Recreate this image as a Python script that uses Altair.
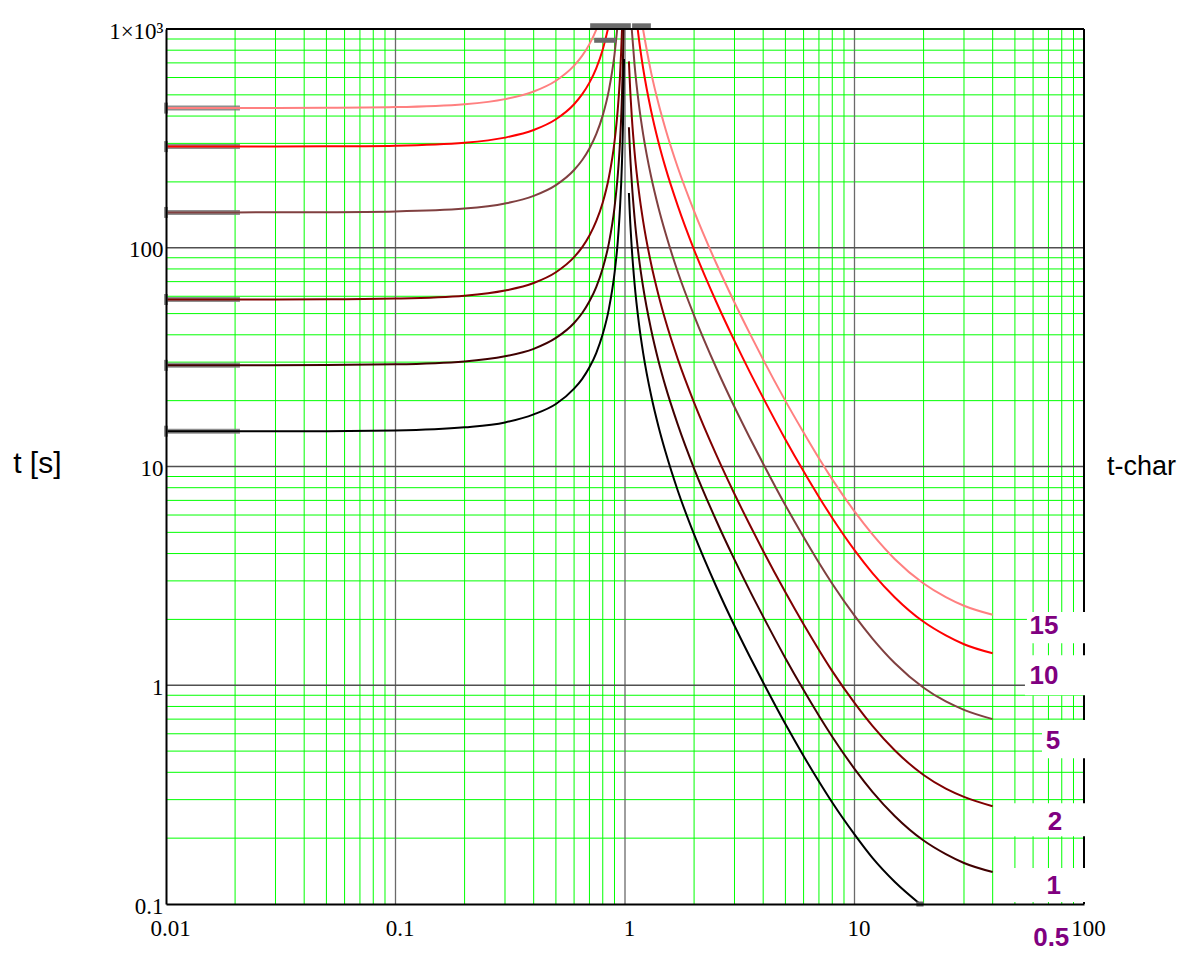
import altair as alt
import pandas as pd

# ---------------- axis ticks / grid values ----------------
x_ticks = [0.01, 0.1, 1, 10, 100]
y_ticks = [0.1, 1, 10, 100, 1000]
x_minor = [0.02, 0.03, 0.04, 0.05, 0.06, 0.07, 0.08, 0.09,
           0.2, 0.3, 0.4, 0.5, 0.6, 0.7, 0.8, 0.9,
           2, 3, 4, 5, 6, 7, 8, 9,
           20, 30, 40, 50, 60, 70, 80, 90]
y_minor = [0.2, 0.3, 0.4, 0.5, 0.6, 0.7, 0.8, 0.9,
           2, 3, 4, 5, 6, 7, 8, 9,
           20, 30, 40, 50, 60, 70, 80, 90,
           200, 300, 400, 500, 600, 700, 800, 900]
x_major = [0.1, 1, 10]
y_major = [1, 10, 100]

# ---------------- curves (t-char) ----------------
series_names = ["15", "10", "5", "2", "1", "0.5"]
series_colors = ["#ff8080", "#ff0000", "#804040", "#800000", "#400000", "#000000"]

# left branches (I < 1)
xl_05 = [0.01, 0.02, 0.05, 0.1, 0.2, 0.3, 0.4, 0.5, 0.6, 0.65, 0.7, 0.75, 0.8, 0.85, 0.9, 0.93, 0.95, 0.97, 0.98, 0.99]
tl_05 = [14.5, 14.5, 14.5, 14.6, 15.1, 15.9, 17.3, 19.3, 22.7, 25.1, 28.4, 33.1, 40.3, 52.3, 76.3, 107, 149, 245, 366, 729]
xl_1 = [0.01, 0.02, 0.05, 0.1, 0.2, 0.3, 0.4, 0.5, 0.6, 0.65, 0.7, 0.75, 0.8, 0.85, 0.9, 0.93, 0.95, 0.97, 0.98, 0.9854]
tl_1 = [29, 29, 29.1, 29.3, 30.2, 31.9, 34.5, 38.7, 45.3, 50.2, 56.9, 66.3, 80.6, 104.5, 152.6, 215, 297, 491, 732, 1000]
xl_2 = [0.01, 0.02, 0.05, 0.1, 0.2, 0.3, 0.4, 0.5, 0.6, 0.65, 0.7, 0.75, 0.8, 0.85, 0.9, 0.93, 0.95, 0.97, 0.9706]
tl_2 = [58, 58, 58.1, 58.6, 60.4, 63.7, 69.0, 77.3, 90.6, 100.4, 113.7, 132.6, 161.1, 209, 305, 429, 595, 981, 1000]
xl_5 = [0.01, 0.02, 0.05, 0.1, 0.2, 0.3, 0.4, 0.5, 0.6, 0.65, 0.7, 0.75, 0.8, 0.85, 0.9, 0.9247]
tl_5 = [145, 145.1, 145.4, 146.5, 151.0, 159.3, 172.6, 193.3, 226.6, 251.1, 284.3, 331.4, 402.8, 522.5, 763.2, 1000]
xl_10 = [0.01, 0.02, 0.05, 0.1, 0.2, 0.3, 0.4, 0.5, 0.6, 0.65, 0.7, 0.75, 0.8, 0.8426]
tl_10 = [290, 290.1, 290.7, 292.9, 302.1, 318.7, 345.2, 386.7, 453.1, 502.2, 568.6, 662.9, 805.6, 1000]
xl_15 = [0.01, 0.02, 0.05, 0.1, 0.2, 0.3, 0.4, 0.5, 0.6, 0.65, 0.7, 0.75, 0.7517]
tl_15 = [435, 435.2, 436.1, 439.4, 453.1, 478.0, 517.9, 580.0, 679.7, 753.2, 853.0, 994.3, 1000]

# right branches (I > 1)
xr_05 = [1.04, 1.05, 1.07, 1.1, 1.15, 1.2, 1.3, 1.4, 1.5, 1.7, 2, 2.5, 3, 3.5, 4, 5, 6, 7, 8, 10, 12, 15, 19.3]
tr_05 = [177.8, 141.5, 100.1, 69.1, 45.0, 33.0, 21.1, 15.2, 11.7, 7.73, 4.89, 2.82, 1.87, 1.35, 1.03, 0.665, 0.475, 0.363, 0.291, 0.208, 0.162, 0.126, 0.1]
xr_1 = [1.04, 1.05, 1.07, 1.1, 1.15, 1.2, 1.3, 1.4, 1.5, 1.7, 2, 2.5, 3, 3.5, 4, 5, 6, 7, 8, 10, 12, 15, 20, 25, 30, 40]
tr_1 = [355.5, 283.0, 200.3, 138.2, 90.0, 66.0, 42.2, 30.3, 23.3, 15.5, 9.79, 5.65, 3.75, 2.70, 2.06, 1.33, 0.951, 0.726, 0.582, 0.415, 0.325, 0.252, 0.195, 0.169, 0.154, 0.140]
xr_2 = [1.04, 1.05, 1.07, 1.1, 1.15, 1.2, 1.3, 1.4, 1.5, 1.7, 2, 2.5, 3, 3.5, 4, 5, 6, 7, 8, 10, 12, 15, 20, 25, 30, 40]
tr_2 = [711, 566, 401, 276, 180, 132, 84.3, 60.7, 46.6, 30.9, 19.6, 11.3, 7.49, 5.40, 4.11, 2.66, 1.90, 1.45, 1.16, 0.830, 0.650, 0.503, 0.389, 0.337, 0.309, 0.280]
xr_5 = [1.07, 1.1, 1.15, 1.2, 1.3, 1.4, 1.5, 1.7, 2, 2.5, 3, 3.5, 4, 5, 6, 7, 8, 10, 12, 15, 20, 25, 30, 40]
tr_5 = [1000, 691, 450, 330, 211, 152, 117, 77.3, 49.0, 28.2, 18.7, 13.5, 10.3, 6.65, 4.76, 3.63, 2.91, 2.08, 1.63, 1.26, 0.974, 0.843, 0.772, 0.700]
xr_10 = [1.136, 1.15, 1.2, 1.3, 1.4, 1.5, 1.7, 2, 2.5, 3, 3.5, 4, 5, 6, 7, 8, 10, 12, 15, 20, 25, 30, 40]
tr_10 = [1000, 900, 660, 422, 303, 233, 155, 97.9, 56.5, 37.5, 27.0, 20.6, 13.3, 9.51, 7.26, 5.82, 4.15, 3.25, 2.52, 1.95, 1.69, 1.54, 1.40]
xr_15 = [1.198, 1.2, 1.3, 1.4, 1.5, 1.7, 2, 2.5, 3, 3.5, 4, 5, 6, 7, 8, 10, 12, 15, 20, 25, 30, 40]
tr_15 = [1000, 990, 632, 455, 350, 232, 147, 84.7, 56.2, 40.5, 30.8, 19.95, 14.3, 10.9, 8.73, 6.23, 4.88, 3.77, 2.92, 2.53, 2.31, 2.10]

# start levels (gray marker segments at left edge)
t_start = [435, 290, 145, 58, 29, 14.5]
seg_x0 = 0.01
seg_x1 = 0.021

# gray marker bars near the top and the end marker at the bottom
bar_x0 = [0.705, 1.074, 0.734, 18.6]
bar_x1 = [1.06, 1.296, 0.915, 20.0]
bar_y = [1034, 1034, 888, 0.1]

# curve labels (t-char) and their white boxes
label_text = ["15", "10", "5", "2", "1", "0.5"]
label_x = [66.9, 66.9, 73.2, 74.7, 73.9, 72.0]
label_y = [1.86, 1.106, 0.555, 0.237, 0.121, 0.0700]
box_x0 = [56.4, 55.3, 65.6, 43.0, 43.0]
box_x1 = [108, 108, 108, 108, 108]
box_y0 = [2.16, 1.373, 0.693, 0.289, 0.146]
box_y1 = [1.557, 0.901, 0.464, 0.204, 0.102]

# ---------------- build tables ----------------
rows = []
curve_sets = [
    ("15", xl_15, tl_15, xr_15, tr_15),
    ("10", xl_10, tl_10, xr_10, tr_10),
    ("5", xl_5, tl_5, xr_5, tr_5),
    ("2", xl_2, tl_2, xr_2, tr_2),
    ("1", xl_1, tl_1, xr_1, tr_1),
    ("0.5", xl_05, tl_05, xr_05, tr_05),
]
for name, xl, tl, xr, tr in curve_sets:
    for a, b in zip(xl, tl):
        rows.append({"x": a, "t": b, "k": name, "seg": name + "-L"})
    for a, b in zip(xr, tr):
        rows.append({"x": a, "t": b, "k": name, "seg": name + "-R"})
curves = pd.DataFrame(rows)

xs = alt.Scale(type="log", domain=[0.01, 100], nice=False)
ys = alt.Scale(type="log", domain=[0.1, 1000], nice=False)

xaxis = alt.Axis(values=x_ticks, format="~g", grid=False, ticks=False, domain=True,
                 domainColor="black", domainWidth=2, labelFont="Liberation Serif",
                 labelFontSize=23, labelColor="black", labelPadding=13, labelOffset=4,
                 labelFlush=False, labelOverlap=False, title=None, zindex=1)
yaxis = alt.Axis(values=y_ticks, format="~g",
                 labelExpr="datum.value >= 1000 ? '1×10³' : datum.label",
                 grid=False, ticks=False, domain=True, domainColor="black", domainWidth=2,
                 labelFont="Liberation Serif", labelFontSize=23, labelColor="black",
                 labelPadding=3, labelOffset=2, labelFlush=False, labelOverlap=False,
                 title=None, zindex=1)

X = lambda f: alt.X(f, type="quantitative", scale=xs, axis=xaxis)
Y = lambda f: alt.Y(f, type="quantitative", scale=ys, axis=yaxis)

grid_minor_v = alt.Chart(pd.DataFrame({"x": x_minor})).mark_rule(
    color="#00ff00", strokeWidth=1).encode(x=X("x"))
grid_minor_h = alt.Chart(pd.DataFrame({"t": y_minor})).mark_rule(
    color="#00ff00", strokeWidth=1).encode(y=Y("t"))
grid_major_v = alt.Chart(pd.DataFrame({"x": x_major})).mark_rule(
    color="#6a6a6a", strokeWidth=1.3).encode(x=X("x"))
grid_major_h = alt.Chart(pd.DataFrame({"t": y_major})).mark_rule(
    color="#505050", strokeWidth=1.3).encode(y=Y("t"))

start_df = pd.DataFrame({"x": [seg_x0] * len(t_start), "x2": [seg_x1] * len(t_start), "t": t_start})
start_seg = alt.Chart(start_df).mark_rule(color="#7a7a7a", strokeWidth=5, opacity=0.85).encode(
    x=X("x"), x2="x2", y=Y("t"))
start_tick = alt.Chart(start_df).mark_tick(color="#606060", orient="vertical", size=11,
                                           thickness=4).encode(x=X("x"), y=Y("t"))

lines = alt.Chart(curves).mark_line(strokeWidth=2, interpolate="monotone", clip=True).encode(
    x=X("x"), y=Y("t"),
    color=alt.Color("k:N", scale=alt.Scale(domain=series_names, range=series_colors), legend=None),
    detail="seg:N")

bars_df = pd.DataFrame({"x": bar_x0, "x2": bar_x1, "t": bar_y})
bars = alt.Chart(bars_df).mark_rule(color="#6a6a6a", strokeWidth=5).encode(
    x=X("x"), x2="x2", y=Y("t"))

frame_top = alt.Chart(pd.DataFrame({"t": [1000]})).mark_rule(color="black", strokeWidth=2).encode(y=Y("t"))
frame_right = alt.Chart(pd.DataFrame({"x": [100]})).mark_rule(color="black", strokeWidth=2).encode(x=X("x"))

boxes_df = pd.DataFrame({"x": box_x0, "x2": box_x1, "t": box_y0, "t2": box_y1})
boxes = alt.Chart(boxes_df).mark_rect(color="white").encode(x=X("x"), x2="x2", y=Y("t"), y2="t2")

labels_df = pd.DataFrame({"x": label_x, "t": label_y, "txt": label_text})
labels = alt.Chart(labels_df).mark_text(font="Liberation Sans", fontSize=26, fontWeight="bold",
                                        color="#800080", align="center", baseline="middle").encode(
    x=X("x"), y=Y("t"), text="txt:N")

titles_df = pd.DataFrame({"x": [0.00275, 252], "t": [10.24, 9.93], "txt": ["t [s]", "t-char"]})
title_left = alt.Chart(titles_df.iloc[[0]]).mark_text(font="Liberation Sans", fontSize=30,
                                                      color="black", align="center", baseline="middle").encode(
    x=X("x"), y=Y("t"), text="txt:N")
title_right = alt.Chart(titles_df.iloc[[1]]).mark_text(font="Liberation Sans", fontSize=27,
                                                       color="black", align="right", baseline="middle").encode(
    x=X("x"), y=Y("t"), text="txt:N")

chart = alt.layer(
    grid_minor_v, grid_minor_h, grid_major_v, grid_major_h,
    start_seg, lines, start_tick, bars, frame_top, frame_right,
    boxes, labels, title_left, title_right
).properties(
    width=918, height=875,
    padding={"left": 158, "top": 21, "right": 96, "bottom": 50},
    autosize=alt.AutoSizeParams(type="none"),
    background="white",
).configure_view(stroke=None)

chart.save("out.html", embed_options={"renderer": "svg", "actions": False})
